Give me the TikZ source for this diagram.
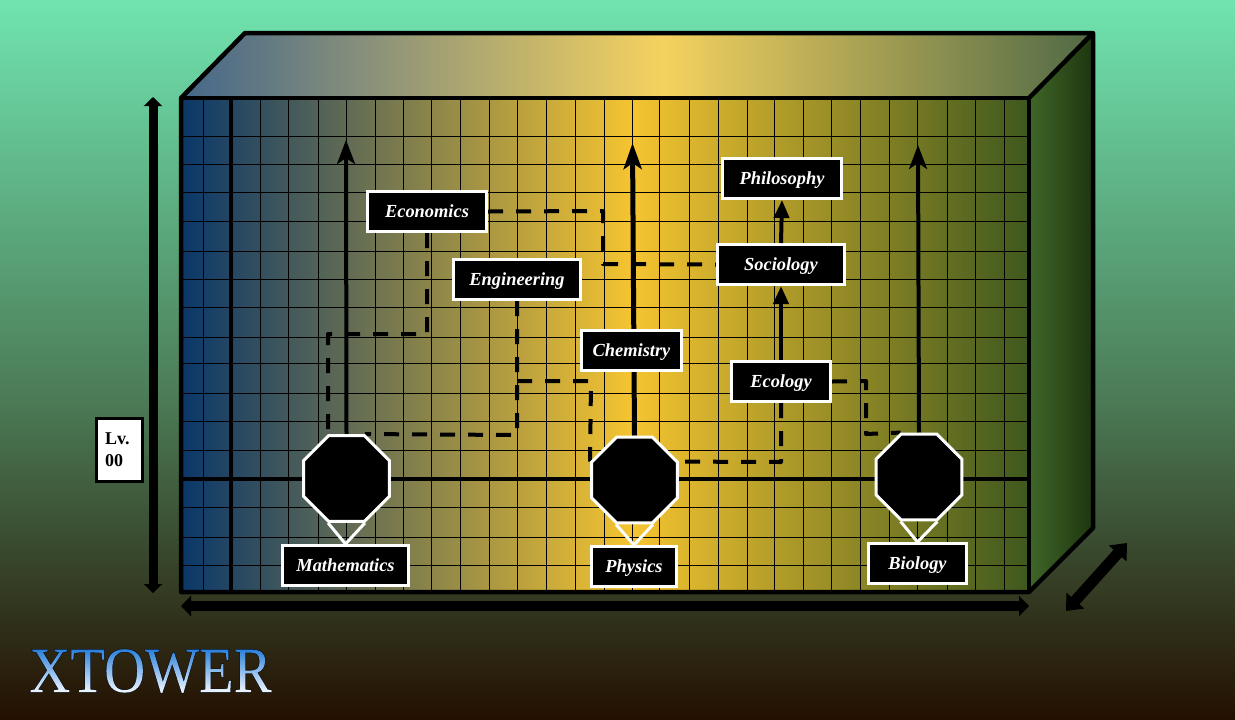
\documentclass[tikz,border=0pt]{standalone}
\usepackage{fontspec}
\setmainfont{Liberation Serif}
\newfontfamily\logofont[FakeStretch=0.88]{Liberation Serif}
\usetikzlibrary{arrows.meta,shapes.geometric}
\pgfdeclarelayer{back}
\pgfdeclarelayer{conn}
\pgfsetlayers{back,conn,main}
\definecolor{bgA}{RGB}{112,228,176}
\definecolor{bgB}{RGB}{75,122,85}
\definecolor{bgC}{RGB}{36,16,0}
\definecolor{frL}{RGB}{10,55,105}
\definecolor{frM}{RGB}{245,196,48}
\definecolor{frR}{RGB}{62,88,30}
\definecolor{tpL}{RGB}{68,103,138}
\definecolor{tpM}{RGB}{245,210,95}
\definecolor{tpR}{RGB}{80,105,70}
\definecolor{rtL}{RGB}{62,102,40}
\definecolor{rtR}{RGB}{30,54,15}
\definecolor{lgA}{RGB}{30,120,215}
\definecolor{lgB}{RGB}{245,250,255}
% visible part of a pgf axis shading is 25bp..75bp
\pgfdeclareverticalshading{pageshade}{100bp}{color(0bp)=(bgC); color(25bp)=(bgC); color(47bp)=(bgB); color(75bp)=(bgA); color(100bp)=(bgA)}
\pgfdeclarehorizontalshading{frontshade}{100bp}{color(0bp)=(frL); color(25bp)=(frL); color(51.6bp)=(frM); color(75bp)=(frR); color(100bp)=(frR)}
\pgfdeclarehorizontalshading{topshade}{100bp}{color(0bp)=(tpL); color(25bp)=(tpL); color(51.4bp)=(tpM); color(75bp)=(tpR); color(100bp)=(tpR)}
\def\u{0.75pt}
\tikzset{
  x=0.75pt,y=-0.75pt,
  frame/.style={draw=black,line width=4.5*\u,line join=round},
  gridline/.style={draw=black,line width=1*\u},
  gridheavy/.style={draw=black,line width=3.5*\u},
  label/.style={draw=white,fill=black,text=white,line width=3*\u,inner sep=0pt,
    font=\fontsize{13.8pt}{16pt}\selectfont\bfseries\itshape,
    minimum height=40*\u,text height=11.2pt,text depth=2pt},
  octa/.style={regular polygon,regular polygon sides=8,
    draw=white,fill=black,line width=3*\u,minimum size=93*\u,inner sep=0pt},
  pin/.style={draw=white,line width=3*\u,line join=miter},
  dashlink/.style={draw=black,line width=4*\u,dash pattern=on 15*\u off 13*\u,line join=round},
  uplink/.style={draw=black,line width=4*\u,-{Stealth[length=24*\u,width=18*\u,inset=6*\u]}},
  shortlink/.style={draw=black,line width=4*\u,-{Triangle[length=18*\u,width=15*\u]}},
  measure/.style={draw=black,{Triangle[length=9*\u,width=18*\u]}-{Triangle[length=9*\u,width=18*\u]}},
}
\begin{document}
\begin{tikzpicture}
\useasboundingbox (0,0) rectangle (1235,719);
\begin{pgfonlayer}{back}
  \shade[shading=pageshade] (0,0) rectangle (1235,719);
  \shade[shading=topshade] (181,98) -- (245,33) -- (1093,33) -- (1029,98) -- cycle;
  \shade[left color=rtL,right color=rtR] (1029,98) -- (1093,33) -- (1093,528) -- (1029,592) -- cycle;
  \shade[shading=frontshade] (181,98) rectangle (1029,592);
  \foreach \gx in {203,260,288,318,346,375,403,431,460,489,517,546,575,604,632,659,689,718,747,774,803,831,860,889,917,947,975,1004}
    \draw[gridline] (\gx,98) -- (\gx,592);
  \foreach \gy in {136,164,192,221,251,279,307,337,363,393,421,450,507,537,565}
    \draw[gridline] (181,\gy) -- (1029,\gy);
  \draw[gridheavy] (231,98) -- (231,592);
  \draw[gridheavy] (181,479) -- (1029,479);
  \draw[frame] (181,98) -- (245,33) -- (1093,33) -- (1093,528) -- (1029,592) -- (181,592) -- cycle;
  \draw[frame] (181,98) -- (1029,98) -- (1029,592);
  \draw[frame] (1029,98) -- (1093,33);
\end{pgfonlayer}

\node[octa] (omath) at (346.5,478.5) {};
\node[octa] (ophys) at (634.5,480) {};
\node[octa] (obio) at (919,477) {};

\node[label,minimum width=126*\u] (math) at (345.5,565.5) {Mathematics};
\node[label,minimum width=85*\u] (phys) at (634,566.5) {Physics};
\node[label,minimum width=98*\u] (biol) at (917.5,563.5) {Biology};
\node[label,minimum width=119*\u] (econ) at (427,211.5) {Economics};
\node[label,minimum width=127*\u] (engi) at (517,279.5) {Engineering};
\node[label,minimum width=100*\u] (chem) at (631.5,350.5) {Chemistry};
\node[label,minimum width=99*\u] (ecol) at (781,381.5) {Ecology};
\node[label,minimum width=127*\u] (soci) at (781,264.5) {Sociology};
\node[label,minimum width=119*\u] (phil) at (782,178.5) {Philosophy};

\node[draw=black,fill=white,line width=3*\u,inner sep=0pt,minimum width=46*\u,minimum height=63*\u,
  text width=29*\u,font=\fontsize{13.5pt}{16.5pt}\selectfont\bfseries,align=left] (lvl) at (119.5,450) {Lv.\\00};

\coordinate (tmath) at (346,140);
\coordinate (tphys) at (632.5,143);
\coordinate (tbio) at (918,145);
\coordinate (vA) at (153,97);
\coordinate (vB) at (153,593);
\coordinate (hA) at (181,606);
\coordinate (hB) at (1029,606);
\coordinate (dA) at (1066,611);
\coordinate (dB) at (1127,543);

\begin{pgfonlayer}{conn}
  \draw[uplink] (omath.north) -- (tmath);
  \draw[uplink,line width=5*\u,-{Stealth[length=26*\u,width=18*\u,inset=6*\u]}] (ophys.north) -- (tphys);
  \draw[uplink] (obio.north) -- (tbio);
  \draw[dashlink] (econ.east) -- (603,211) -- (603,264) -- (soci.west);
  \draw[dashlink] (econ.south) -- (427,334) -- (328,334) -- (omath.corner 2);
  \draw[dashlink] (engi.south) -- (517,435) -- (omath.corner 1);
  \draw[dashlink] (517,381) -- (591,381) -- (ophys.corner 3);
  \draw[dashlink] (ecol.south) -- (781,462) -- (ophys.corner 8);
  \draw[dashlink] (ecol.east) -- (866,381) -- (866,434) -- (obio.corner 2);
  \draw[pin] (omath.corner 5) -- (math.north) -- (omath.corner 6);
  \draw[pin] (ophys.corner 5) -- (phys.north) -- (ophys.corner 6);
  \draw[pin] (obio.corner 5) -- (biol.north) -- (obio.corner 6);
\end{pgfonlayer}
\draw[shortlink] (ecol.north) -- (soci.south);
\draw[shortlink] (soci.north) -- (phil.south);

\draw[measure,line width=9*\u] (vA) -- (vB);
\draw[measure,line width=10*\u,{Triangle[length=10*\u,width=20*\u]}-{Triangle[length=10*\u,width=20*\u]}] (hA) -- (hB);
\draw[measure,line width=11*\u,{Triangle[length=14*\u,width=23*\u]}-{Triangle[length=14*\u,width=23*\u]}] (dA) -- (dB);

\node[inner sep=0pt,anchor=base west] (logo) at (29,692) {%
  \fontsize{48.5pt}{48.5pt}\selectfont\logofont
  \special{pdf:code q 0.03 0.05 0.1 RG 0.8 w 5 Tr}%
  \rlap{XTOWER}%
  \special{pdf:code 0 Tr}%
  \rlap{\tikz[overlay,x=1pt,y=1pt]{\shade[top color=lgA,bottom color=lgB] (-5,-1) rectangle (200,34);}}%
  \special{pdf:code Q}%
  \phantom{XTOWER}};
\end{tikzpicture}
\end{document}
